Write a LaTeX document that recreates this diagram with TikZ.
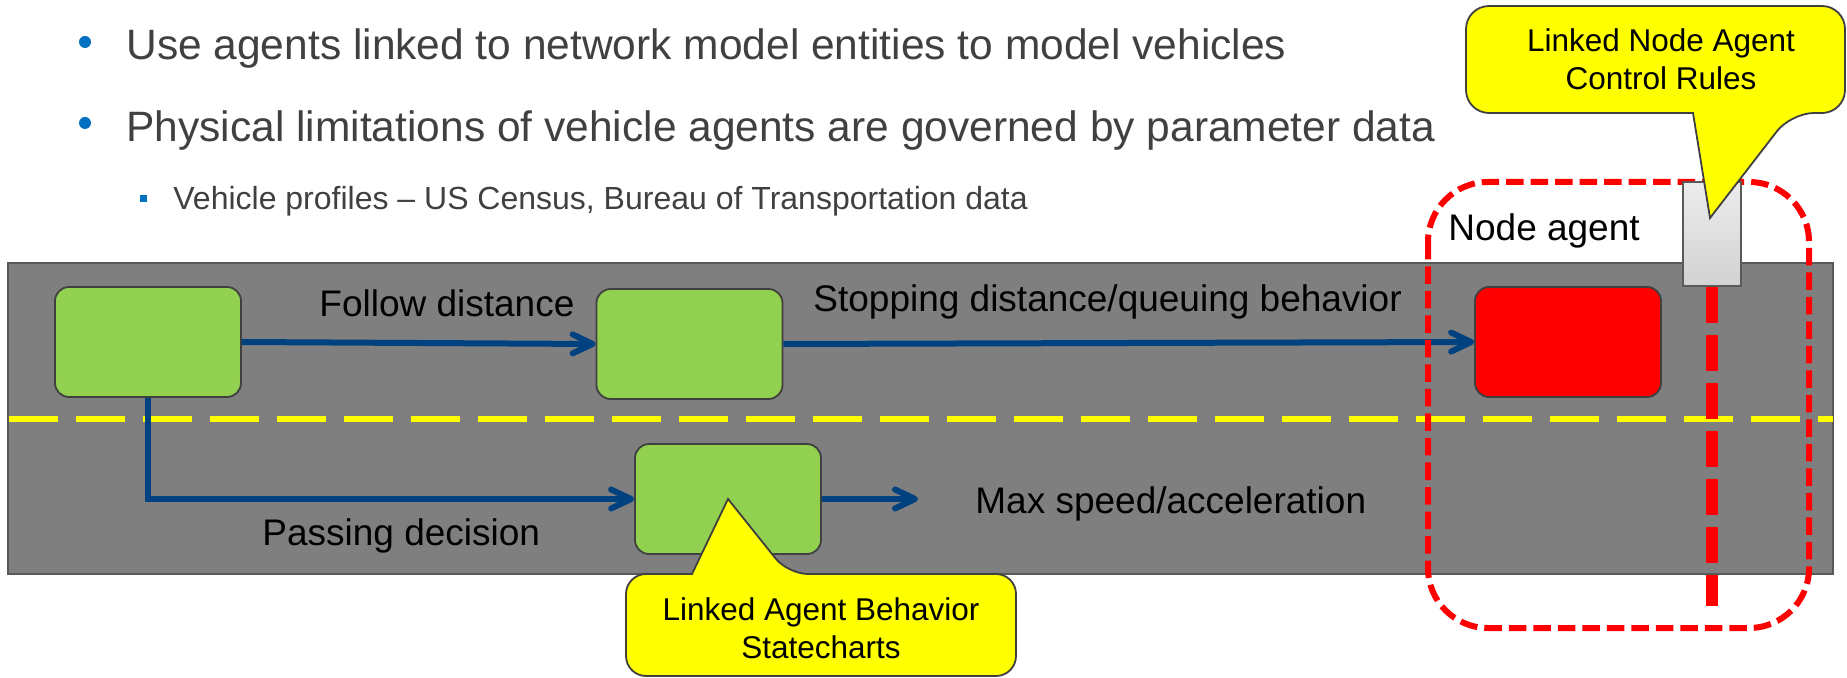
\documentclass[tikz,border=0pt]{standalone}
\usepackage{fontspec}
\setmainfont{Liberation Sans}
\usetikzlibrary{arrows.meta}
\definecolor{slidegray}{RGB}{64,64,64}
\definecolor{bulletblue}{RGB}{0,112,192}
\definecolor{roadgray}{RGB}{127,127,127}
\definecolor{edgegray}{RGB}{89,89,89}
\definecolor{vehgreen}{RGB}{146,208,80}
\definecolor{flowblue}{RGB}{0,66,128}
\definecolor{noteyellow}{RGB}{255,255,0}
\tikzset{
	point/.style={text=slidegray, inner sep=0pt, anchor=base west, font=\fontsize{21.25}{25}\selectfont},
	subpoint/.style={point, font=\fontsize{16}{19}\selectfont},
	lbl/.style={inner sep=0pt, anchor=base west, font=\fontsize{18.5}{22}\selectfont},
	vehicle/.style={draw=slidegray, fill=vehgreen, line width=0.9pt, rounded corners=7pt, minimum width=93pt, minimum height=55pt, inner sep=0pt},
	flow/.style={draw=flowblue, line width=3pt, -{Straight Barb[length=10pt,width=9.5pt,round]}},
	note/.style={draw=slidegray, fill=noteyellow, line width=0.9pt},
	notetext/.style={align=center, inner sep=0pt, font=\fontsize{15.75}{18.75}\selectfont},
}
\begin{document}
\begin{tikzpicture}[x=0.5pt,y=0.5pt,yscale=-1]
	\useasboundingbox (0,0) rectangle (1847,678);
	\fill [bulletblue] (85,42) circle (6);
	\fill [bulletblue] (85,123) circle (6);
	\fill [bulletblue] (139.5,195.5) rectangle (146.5,202.5);
	\node [point] (usepoint) at (126,60) {Use agents linked to network model entities to model vehicles};
	\node [point] (limitpoint) at (126,142) {Physical limitations of vehicle agents are governed by parameter data};
	\node [subpoint] (profilepoint) at (173,210) {Vehicle profiles – US Census, Bureau of Transportation data};
	\draw [draw=edgegray, fill=roadgray, line width=0.8pt] (8,263) rectangle (1833,574);
	\draw [noteyellow, line width=3pt, dash pattern=on 24.25pt off 9.25pt] (9,419) -- (1833,419);
	\node [vehicle] (lead) at (148,342) {};
	\node [vehicle] (follow) at (689.5,344) {};
	\node [vehicle] (passer) at (728,499) {};
	\node [vehicle, fill=red] (stopped) at (1568,342) {};
	\coordinate (maxend) at (918,499);
	\draw [flow] (lead.east) -- (follow.west);
	\draw [flow] (follow.east) -- (stopped.west);
	\draw [flow] (lead.south) |- (passer.west);
	\draw [flow] (passer.east) -- (maxend);
	\node [lbl] (followlbl) at (319,317) {Follow distance};
	\node [lbl] (stoplbl) at (813,312) {Stopping distance/queuing behavior};
	\node [lbl] (passlbl) at (262,545) {Passing decision};
	\node [lbl] (maxlbl) at (975,513) {Max speed/acceleration};
	\node [lbl] (nodelbl) at (1448,241) {Node agent};
	\draw [red, line width=3pt, rounded corners=30pt, dash pattern=on 8.75pt off 3.5pt] (1428,182) rectangle (1809,628);
	\node [draw=edgegray, line width=0.8pt, top color=gray!15, bottom color=gray!35, minimum width=29pt, minimum height=52pt, inner sep=0pt] (ctrl) at (1712,234) {};
	\coordinate (ctrlend) at (1712,606);
	\draw [red, line width=6pt, dash pattern=on 18pt off 6pt] (ctrl.south) -- (ctrlend);
	\draw [note] (1693,113) [rounded corners=11.5pt] -- (1466,113) -- (1466,6) -- (1845,6) -- (1845,113) -- (1791,113) [sharp corners] -- (1710,218) -- cycle;
	\node [notetext] (nodenote) at (1661,59) {Linked Node Agent\\Control Rules};
	\draw [note] (692,574) [rounded corners=10pt] -- (626,574) -- (626,676) -- (1016,676) -- (1016,574) -- (788,574) [sharp corners] -- (728,499) -- cycle;
	\node [notetext] (agentnote) at (821,628) {Linked Agent Behavior\\Statecharts};
\end{tikzpicture}
\end{document}
